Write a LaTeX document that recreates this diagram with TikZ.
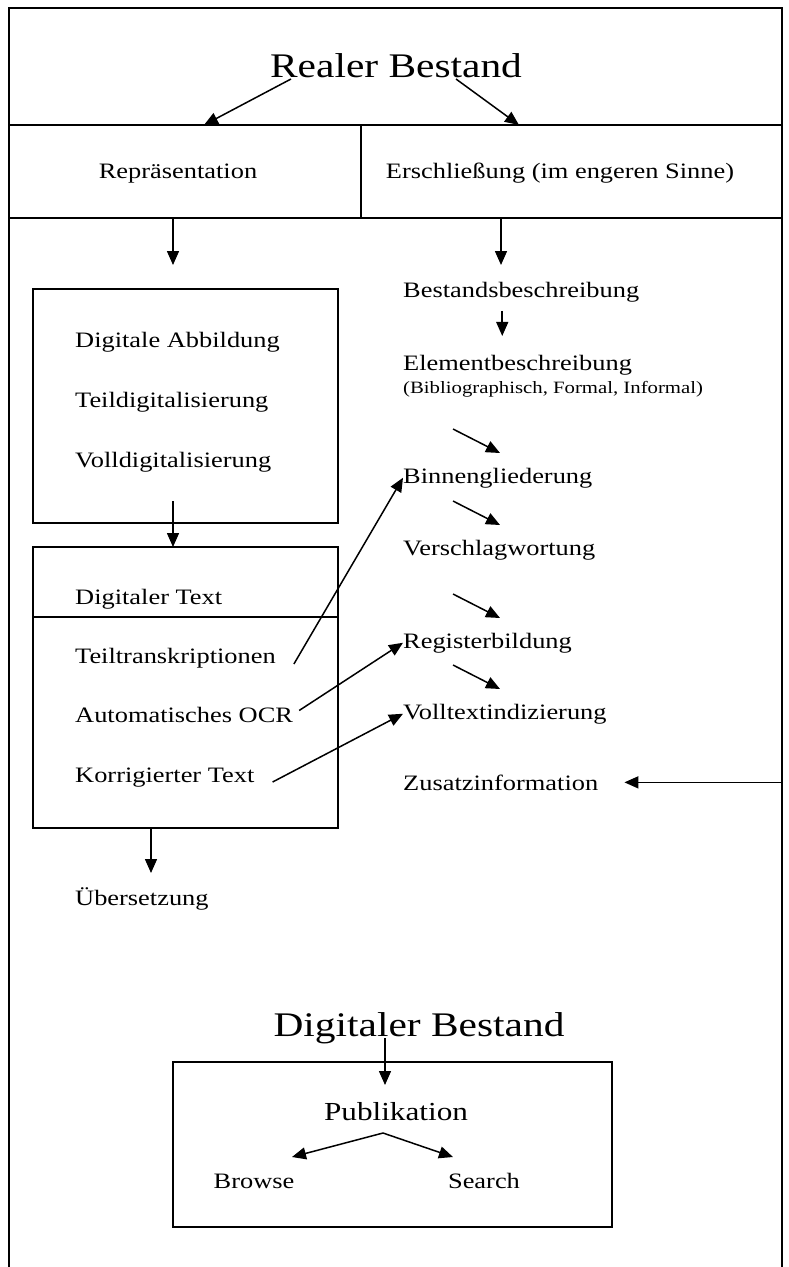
\documentclass[tikz,border=0pt]{standalone}
\usepackage{fontspec}
\setmainfont{Liberation Serif}[FakeStretch=1.2]
\usetikzlibrary{arrows.meta,calc,positioning}

\tikzset{
  txt/.style={inner sep=0pt, anchor=base west, font=\fontsize{22}{26}\selectfont},
  gross/.style={inner sep=0pt, anchor=base, font=\fontsize{34.5}{40}\selectfont},
  klein/.style={txt, font=\fontsize{17.3}{20}\selectfont},
  pfeil/.style={-{Triangle[length=14pt,width=12pt]}, line width=1.5pt},
  rahmen/.style={line width=1.6pt},
}

\begin{document}
\begin{tikzpicture}[x=1pt,y=-1pt]
\useasboundingbox (0,0) rectangle (789,1267);

% Rahmen oben
\draw [rahmen] (9,1267) -- (9,8) -- (782,8) -- (782,1267);
\draw [rahmen] (9,125) -- (782,125);
\draw [rahmen] (9,218) -- (782,218);
\draw [rahmen] (361,125) -- (361,218);
\coordinate (randR) at (782,700);

\node[gross] (realer) at (396,77) {Realer Bestand};
\node[txt,anchor=base] (repr) at (178,178) {Repräsentation};
\node[txt,anchor=base] (erschl) at (560,178) {Erschließung (im engeren Sinne)};

\coordinate (r1) at (291,79);
\coordinate (r2) at (456,79);
\coordinate (l1) at (204,125);
\coordinate (l2) at (519,125);
\draw [pfeil] (r1) -- (l1);
\draw [pfeil] (r2) -- (l2);

% Repraesentation
\draw [rahmen] (33,289) rectangle (338,523);
\draw [rahmen] (33,547) rectangle (338,828);
\draw [rahmen] (33,617) -- (338,617);

\node[txt] (abbild) at (75,347) {Digitale Abbildung};
\node[txt] (teildig) at (75,407) {Teildigitalisierung};
\node[txt] (volldig) at (75,467) {Volldigitalisierung};
\node[txt] (digtext) at (75,604) {Digitaler Text};
\node[txt] (teiltrans) at (75,663) {Teiltranskriptionen};
\node[txt] (ocr) at (75,722) {Automatisches OCR};
\node[txt] (korr) at (75,782) {Korrigierter Text};
\node[txt] (uebers) at (75,905) {Übersetzung};

\coordinate (s1) at (173,218);
\coordinate (box1) at (173,265);
\coordinate (s2) at (173,501);
\coordinate (box2) at (173,547);
\coordinate (s3) at (151,828);
\coordinate (s4) at (151,873);
\draw [pfeil] (s1) -- (box1);
\draw [pfeil] (s2) -- (box2);
\draw [pfeil] (s3) -- (s4);

% Erschliessung
\node[txt] (bestand) at (403,297) {Bestandsbeschreibung};
\node[txt] (element) at (403,370) {Elementbeschreibung};
\node[klein] (biblio) at (403,393) {(Bibliographisch, Formal, Informal)};
\node[txt] (binnen) at (403,483) {Binnengliederung};
\node[txt] (verschl) at (403,555) {Verschlagwortung};
\node[txt] (register) at (403,648) {Registerbildung};
\node[txt] (volltext) at (403,719) {Volltextindizierung};
\node[txt] (zusatz) at (403,790) {Zusatzinformation};

\coordinate (e1) at (501,218);
\draw [pfeil] (e1) -- (501,265);
\draw [pfeil] ($(bestand.south)+(-19,9)$) -- ($(bestand.south)+(-19,34)$);
\foreach \b in {binnen,verschl,register,volltext}
  \draw [pfeil] ($(\b.base west)+(50,-54)$) -- ++(47,24);

\draw [pfeil] ($(teiltrans.base east)+(18,1)$) -- (binnen.west);
\draw [pfeil] ($(ocr.east)+(6,-4)$) -- (register.west);
\draw [pfeil] ($(korr.base east)+(18,0)$) -- (volltext.west);
\draw [pfeil] (zusatz.east -| randR) -- ($(zusatz.east)+(26,0)$);

% Digitaler Bestand
\node[gross] (digbest) at (419,1036) {Digitaler Bestand};
\draw [rahmen] (173,1062) rectangle (612,1227);
\node[txt,anchor=base,font=\fontsize{26}{30}\selectfont] (publ) at (396,1120) {Publikation};
\node[txt,anchor=base] (browse) at (254,1188) {Browse};
\node[txt,anchor=base] (search) at (484,1188) {Search};

\coordinate (d1) at (385,1038);
\coordinate (d2) at (385,1085);
\coordinate (spitze) at (383,1133);
\draw [pfeil] (d1) -- (d2);
\draw [pfeil] (spitze) -- (292,1157);
\draw [pfeil] (spitze) -- (453,1157);

\end{tikzpicture}
\end{document}
